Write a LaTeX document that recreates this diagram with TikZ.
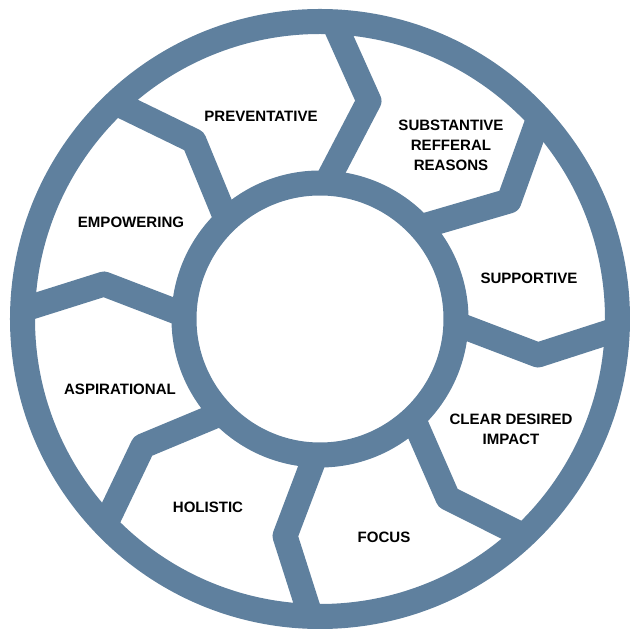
\documentclass[tikz,border=0pt]{standalone}
\usepackage{fontspec}
\setmainfont{Liberation Sans}
\definecolor{ringblue}{RGB}{95,128,158}

\begin{document}
\begin{tikzpicture}[x=0.025cm,y=0.025cm,
  band/.style={draw=ringblue,line width=0.625cm},
  spoke/.style={draw=ringblue,line width=0.625cm,line join=round},
  lbl/.style={font=\fontsize{10.7}{14.2}\selectfont\bfseries,align=center,text=black}]
\useasboundingbox (-320,-310) rectangle (310,319);

% the two rings
\draw [band] (0,0) circle (297.5);
\draw [band] (0,0) circle (136);

% bent spokes between the sectors: angle / bend point
\foreach \a/\bx/\by in {87.4/49/218, 42.6/189/118, -2/218/-36, -46.8/128/-179,
    -91.8/-35/-217, -136.2/-177/-127, 178.2/-216/35, 133.4/-126/178}
  \draw [spoke] (\a:136)--(\bx,\by)--(\a:297.5);

\node [lbl] (preventative) at (-59,203) {PREVENTATIVE};
\node [lbl] (referral) at (131,174) {SUBSTANTIVE\\REFFERAL\\REASONS};
\node [lbl] (supportive) at (209,41) {SUPPORTIVE};
\node [lbl] (impact) at (191,-110) {CLEAR DESIRED\\IMPACT};
\node [lbl] (focus) at (64,-218) {FOCUS};
\node [lbl] (holistic) at (-112,-188) {HOLISTIC};
\node [lbl] (aspirational) at (-200,-70) {ASPIRATIONAL};
\node [lbl] (empowering) at (-189,97) {EMPOWERING};

\end{tikzpicture}
\end{document}
